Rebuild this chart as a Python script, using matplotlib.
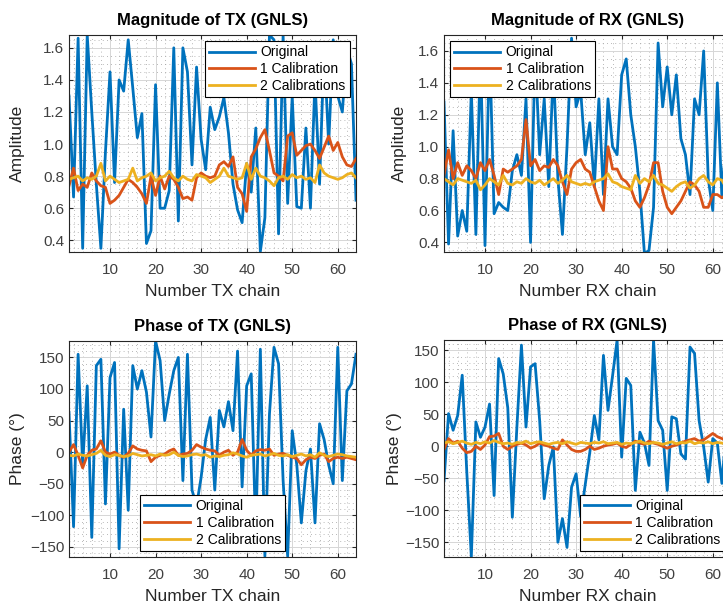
import numpy as np
import matplotlib.pyplot as plt
from matplotlib.ticker import AutoMinorLocator, MultipleLocator

plt.rcParams['font.family'] = ['Liberation Sans', 'DejaVu Sans']

chain = np.arange(1, 65)

# magnitude, TX
tx_mag_orig = [1.30, 0.67, 1.66, 0.35, 1.68, 1.20, 0.75, 0.35, 0.95, 1.45, 0.76, 1.40, 1.33, 1.65, 1.35, 1.04,
               1.19, 0.38, 0.46, 1.37, 0.60, 0.60, 0.71, 1.60, 0.52, 1.60, 1.45, 0.87, 1.48, 1.03, 0.84, 1.23,
               1.09, 1.17, 1.29, 1.07, 0.75, 0.59, 0.51, 0.88, 0.70, 1.10, 0.33, 0.54, 1.68, 1.65, 0.44, 1.68,
               0.63, 1.30, 0.61, 0.60, 1.10, 0.60, 1.40, 0.75, 1.60, 1.00, 1.65, 1.30, 1.20, 1.60, 1.50, 0.65]
tx_mag_cal1 = [0.74, 0.85, 0.71, 0.75, 0.73, 0.82, 0.77, 0.74, 0.73, 0.63, 0.65, 0.68, 0.73, 0.78, 0.76, 0.73,
               0.69, 0.63, 0.80, 0.68, 0.80, 0.72, 0.80, 0.78, 0.73, 0.66, 0.67, 0.65, 0.79, 0.82, 0.80, 0.79,
               0.80, 0.87, 0.89, 0.86, 0.92, 0.73, 0.69, 0.58, 0.92, 0.97, 1.04, 1.09, 0.96, 0.82, 0.80, 0.77,
               1.05, 1.07, 0.93, 0.96, 0.99, 1.00, 0.96, 0.91, 0.98, 1.05, 0.96, 1.01, 0.92, 0.87, 0.86, 0.91]
tx_mag_cal2 = [0.78, 0.79, 0.80, 0.77, 0.79, 0.78, 0.80, 0.88, 0.77, 0.80, 0.78, 0.76, 0.77, 0.78, 0.85, 0.77,
               0.79, 0.80, 0.82, 0.77, 0.79, 0.80, 0.83, 0.79, 0.77, 0.80, 0.78, 0.77, 0.81, 0.80, 0.79, 0.76,
               0.78, 0.80, 0.85, 0.80, 0.79, 0.78, 0.79, 0.88, 0.78, 0.85, 0.80, 0.79, 0.77, 0.74, 0.79, 0.80,
               0.78, 0.81, 0.79, 0.80, 0.78, 0.79, 0.76, 0.87, 0.82, 0.80, 0.79, 0.78, 0.79, 0.81, 0.82, 0.79]

# magnitude, RX
rx_mag_orig = [1.28, 0.39, 1.10, 0.44, 0.60, 0.47, 1.35, 0.45, 1.60, 0.38, 1.65, 0.58, 0.65, 0.62, 0.60, 0.85,
               0.95, 0.82, 1.30, 0.40, 1.60, 0.95, 1.30, 0.75, 1.50, 0.80, 0.45, 1.00, 1.68, 1.25, 1.35, 0.95,
               1.15, 0.75, 1.30, 0.70, 1.30, 1.00, 0.95, 1.45, 1.55, 1.20, 1.00, 0.72, 0.33, 0.35, 0.62, 1.65,
               1.25, 1.50, 1.20, 1.45, 1.05, 0.95, 0.70, 1.30, 1.20, 1.60, 0.80, 0.60, 1.40, 0.68, 1.10, 0.90]
rx_mag_cal1 = [0.82, 0.98, 0.80, 0.90, 0.82, 0.88, 0.85, 0.80, 0.90, 0.85, 0.92, 0.82, 0.70, 0.86, 0.84, 0.86,
               0.88, 0.92, 1.17, 0.88, 0.92, 0.85, 0.88, 0.87, 0.92, 0.88, 0.78, 0.70, 0.86, 0.90, 0.92, 0.86,
               0.84, 0.75, 0.66, 0.60, 1.00, 0.86, 0.86, 0.80, 0.78, 0.74, 0.66, 0.62, 0.68, 0.76, 0.90, 0.90,
               0.72, 0.62, 0.58, 0.62, 0.66, 0.72, 0.78, 0.76, 0.72, 0.62, 0.62, 0.70, 0.70, 0.68, 0.70, 0.66]
rx_mag_cal2 = [0.80, 0.78, 0.76, 0.80, 0.79, 0.78, 0.77, 0.79, 0.73, 0.76, 0.80, 0.78, 0.76, 0.82, 0.77, 0.76,
               0.78, 0.77, 0.80, 0.78, 0.77, 0.79, 0.76, 0.78, 0.80, 0.77, 0.79, 0.82, 0.78, 0.77, 0.76, 0.77,
               0.76, 0.78, 0.79, 0.80, 0.83, 0.78, 0.77, 0.75, 0.74, 0.73, 0.82, 0.77, 0.80, 0.78, 0.82, 0.77,
               0.76, 0.74, 0.72, 0.75, 0.77, 0.78, 0.74, 0.76, 0.80, 0.82, 0.78, 0.76, 0.80, 0.79, 0.74, 0.73]

# phase, TX (degrees)
tx_ph_orig = [63, -118, 155, -20, 105, -135, 137, 147, -82, 118, 142, -153, 68, -92, 137, 100,
              129, 95, 24, 176, 145, 50, 92, 129, 150, -45, 155, -60, -85, -40, 20, 55,
              -60, 66, 40, 80, 34, 160, -55, 105, 124, -130, 163, -165, 60, 166, 140, -45,
              -165, 34, -20, -112, -30, 5, -112, 45, 20, -20, -50, 166, -45, 97, 108, 155]
tx_ph_cal1 = [0, 12, -5, -25, -5, 3, 5, 18, 0, -3, 0, -5, -8, -2, 10, 5,
              3, 2, -15, -8, -5, -3, 2, 5, -5, -3, -2, 3, 12, 8, 5, 3,
              2, -5, 0, 3, -5, 0, 20, 3, -5, 2, 4, 3, 5, -5, -3, -2,
              -5, -8, -10, -20, -12, -8, -10, -5, -3, -15, -10, -8, -10, -8, -10, -12]
tx_ph_cal2 = [-5, -6, -3, -5, -6, -4, -2, 3, -5, -7, -4, -5, -7, -6, -2, -4,
              -6, -5, -4, -6, -3, -5, -4, 0, -5, -7, -6, -4, -3, -5, -4, -8,
              -6, -7, -5, -4, -1, -3, -6, -8, -5, -4, -3, -6, -4, -2, -5, -6,
              -4, -7, -5, -3, -6, -4, -8, -1, -5, -7, -5, -3, -4, -6, -7, -8]

# phase, RX (degrees)
rx_ph_orig = [-54, 51, 25, 48, 111, -40, -173, 38, 14, 30, 66, -77, 137, 113, 60, -111,
              30, 158, 30, 124, 129, 40, -82, -30, -1, -150, -113, -158, -64, -43, -110, -60,
              -10, 48, 10, 142, 56, 110, 166, -17, 106, 95, -69, 22, 5, -30, 166, 40,
              25, -69, 46, 43, -12, -20, 155, 145, 40, -1, -56, 12, 5, -58, 30, -40]
rx_ph_cal1 = [-5, 12, 5, 8, -3, -10, -8, 0, -5, 2, 15, 16, 20, 0, -5, 0,
              3, 5, 2, -3, 0, 5, 2, 0, -3, -5, 10, 2, -5, -8, -8, -5,
              0, -5, -3, 0, 2, 3, 5, 0, -2, 3, 8, 5, 3, 8, 5, 3,
              0, -3, 0, 2, 5, 8, 10, 12, 8, 10, 15, 20, 15, 12, 10, 8]
rx_ph_cal2 = [5, 7, 4, 6, 8, 5, 3, 6, 4, 7, 5, 9, 6, 4, 5, 3,
              6, 5, 8, 4, 6, 7, 5, 3, 5, 6, 4, 7, 5, 3, 6, 5,
              4, 6, 5, 7, 4, 5, 6, 3, 5, 4, 6, 8, 5, 4, 6, 5,
              3, 5, 7, 4, 6, 5, 8, 4, 6, 5, 7, 4, 6, 5, 4, 5]

labels = ['Original', '1 Calibration', '2 Calibrations']
colors = ['#0072BD', '#D95319', '#EDB120']
W, H = 723, 604


def px_axes(fig, left, top, right, bottom):
    return fig.add_axes([left / W, 1 - bottom / H, (right - left) / W, (bottom - top) / H])


def draw(ax, series, title, xlabel, ylabel, ylim, ystep, yminor, legend_loc, ylab_x):
    for s, c, lab in zip(series, colors, labels):
        ax.plot(chain, s, color=c, lw=2.0, label=lab)
    ax.set_xlim(1, 64)
    ax.set_ylim(*ylim)
    ax.xaxis.set_major_locator(MultipleLocator(10))
    ax.yaxis.set_major_locator(MultipleLocator(ystep))
    ax.xaxis.set_minor_locator(AutoMinorLocator(5))
    ax.yaxis.set_minor_locator(AutoMinorLocator(yminor))
    ax.grid(which='major', color='#d6d6d6', lw=0.7)
    ax.grid(which='minor', color='#a0a0a0', lw=0.6, ls=(0, (1, 4)))
    ax.set_axisbelow(True)
    ax.tick_params(which='both', direction='in', top=True, right=True, colors='#262626',
                   labelcolor='#404040', labelsize=11)
    ax.tick_params(which='major', length=3)
    ax.tick_params(axis='x', which='major', pad=8)
    ax.tick_params(which='minor', length=0)
    for sp in ax.spines.values():
        sp.set_color('#262626')
        sp.set_linewidth(0.8)
    ax.set_title(title, fontsize=12, fontweight='bold', color='black', pad=7)
    ax.set_xlabel(xlabel, fontsize=12.5, color='#262626', labelpad=5)
    ax.set_ylabel(ylabel, fontsize=12.5, color='#262626')
    ax.yaxis.set_label_coords(ylab_x, 0.5)
    leg = ax.legend(loc=legend_loc, fontsize=10, fancybox=False, framealpha=1,
                    edgecolor='black', handlelength=3.3, handletextpad=0.4,
                    borderpad=0.3, labelspacing=0.2, borderaxespad=0.45)
    leg.get_frame().set_linewidth(0.8)


fig = plt.figure(figsize=(W / 100, H / 100), dpi=100)
ax1 = px_axes(fig, 69, 35, 356, 252)
ax2 = px_axes(fig, 444, 35, 731, 252)
ax3 = px_axes(fig, 69, 341, 356, 557)
ax4 = px_axes(fig, 444, 340, 731, 557)

draw(ax1, [tx_mag_orig, tx_mag_cal1, tx_mag_cal2], 'Magnitude of TX (GNLS)', 'Number TX chain',
     'Amplitude', (0.327, 1.68), 0.2, 4, 'upper right', -0.153)
draw(ax2, [rx_mag_orig, rx_mag_cal1, rx_mag_cal2], 'Magnitude of RX (GNLS)', 'Number RX chain',
     'Amplitude', (0.34, 1.70), 0.2, 4, 'upper left', -0.129)
draw(ax3, [tx_ph_orig, tx_ph_cal1, tx_ph_cal2], 'Phase of TX (GNLS)', 'Number TX chain',
     'Phase (°)', (-166, 176), 50, 5, 'lower center', -0.153)
draw(ax4, [rx_ph_orig, rx_ph_cal1, rx_ph_cal2], 'Phase of RX (GNLS)', 'Number RX chain',
     'Phase (°)', (-173, 166), 50, 5, 'lower right', -0.146)

fig.savefig('out.png', dpi=100)
